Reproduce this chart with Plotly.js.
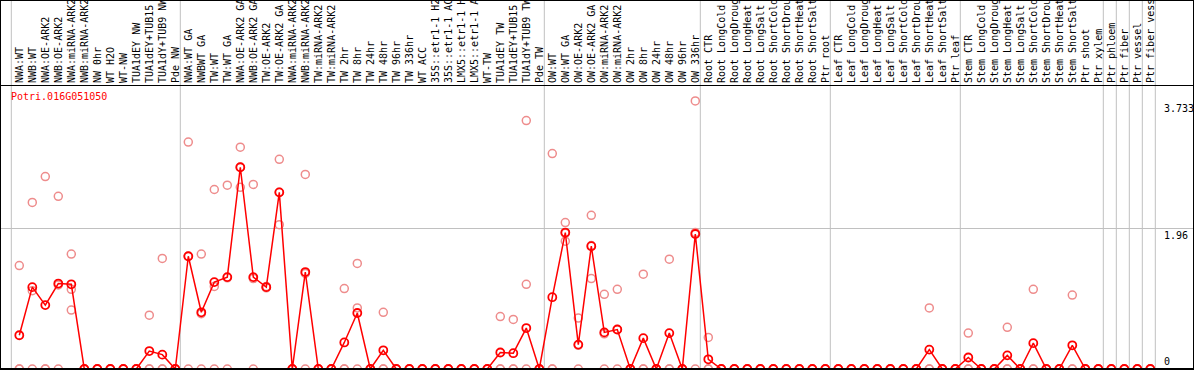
<!DOCTYPE html>
<html>
<head>
<meta charset="utf-8">
<script src="https://cdn.plot.ly/plotly-3.0.1.min.js"></script>
<style>
  html, body { margin: 0; padding: 0; background: #ffffff; }
  #chart { width: 1194px; height: 370px; }
</style>
</head>
<body>
<div id="chart"></div>
<script>
const geneId = "Potri.016G051050";

const categories = [
  "NWA:WT", "NWB:WT", "NWA:OE-ARK2", "NWB:OE-ARK2", "NWA:miRNA-ARK2", "NWB:miRNA-ARK2",
  "NW 0hr", "WT H2O", "WT-NW", "TUA1dEY NW", "TUA1dEY+TUB15 NW", "TUA1dY+TUB9 NW", "Pde NW",
  "NWA:WT GA", "NWBWT GA", "TW:WT", "TW:WT GA", "NWA:OE-ARK2 GA", "NWB:OE-ARK2 GA",
  "TW:OE-ARK2", "TW:OE-ARK2 GA", "NWA:miRNA-ARK2 GA", "NWB:miRNA-ARK2 GA", "TW:miRNA-ARK2",
  "TW:miRNA-ARK2 GA", "TW 2hr", "TW 8hr", "TW 24hr", "TW 48hr", "TW 96hr", "TW 336hr",
  "WT ACC", "35S::etr1-1 H2O", "35S::etr1-1 ACC", "LMX5::etr1-1 H2O", "LMX5::etr1-1 ACC",
  "WT-TW", "TUA1dEY TW", "TUA1dEY+TUB15 TW", "TUA1dY+TUB9 TW", "Pde TW",
  "OW:WT", "OW:WT GA", "OW:OE-ARK2", "OW:OE-ARK2 GA", "OW:miRNA-ARK2", "OW:miRNA-ARK2 GA",
  "OW 2hr", "OW 8hr", "OW 24hr", "OW 48hr", "OW 96hr", "OW 336hr",
  "Root CTR", "Root LongCold", "Root LongDrought", "Root LongHeat", "Root LongSalt",
  "Root ShortCold", "Root ShortDrought", "Root ShortHeat", "Root ShortSalt", "Ptr root",
  "Leaf CTR", "Leaf LongCold", "Leaf LongDrought", "Leaf LongHeat", "Leaf LongSalt",
  "Leaf ShortCold", "Leaf ShortDrought", "Leaf ShortHeat", "Leaf ShortSalt", "Ptr leaf",
  "Stem CTR", "Stem LongCold", "Stem LongDrought", "Stem LongHeat", "Stem LongSalt",
  "Stem ShortCold", "Stem ShortDrought", "Stem ShortHeat", "Stem ShortSalt", "Ptr shoot",
  "Ptr xylem", "Ptr phloem", "Ptr fiber", "Ptr vessel", "Ptr fiber vessel"
];

const meanValues = [
  0.47, 1.14, 0.89, 1.19, 1.18, 0, 0, 0, 0, 0, 0.25, 0.20, 0,
  1.57, 0.79, 1.21, 1.28, 2.81, 1.28, 1.14, 2.46, 0, 1.35, 0, 0,
  0.37, 0.78, 0, 0.26, 0, 0, 0, 0, 0, 0, 0, 0, 0.23, 0.22, 0.57, 0,
  1.00, 1.90, 0.34, 1.71, 0.51, 0.55, 0, 0.43, 0, 0.50, 0, 1.88,
  0.135, 0, 0, 0, 0, 0, 0, 0, 0, 0,
  0, 0, 0, 0, 0, 0, 0, 0.27, 0, 0,
  0.16, 0, 0, 0.19, 0, 0.36, 0, 0, 0.33, 0, 0,
  0, 0, 0, 0
];

const repHigh = [
  1.44, 2.32, 2.68, 2.405, 1.60, 0, 0, 0, 0, 0, 0.75, 1.54, 0,
  3.16, 1.60, 2.50, 2.56, 3.09, 2.57, 1.15, 2.92, 0, 2.71, 0, 0,
  1.12, 1.47, 0, 0.79, 0, 0, 0, 0, 0, 0, 0, 0, 0.73, 0.69, 3.46, 0,
  3.00, 2.04, 0.71, 2.14, 1.04, 1.11, 0, 1.32, 0, 1.53, 0, 3.733,
  0.44, 0, 0, 0, 0, 0, 0, 0, 0, 0,
  0, 0, 0, 0, 0, 0, 0, 0.85, 0, 0,
  0.50, 0, 0, 0.58, 0, 1.11, 0, 0, 1.03, 0, 0,
  0, 0, 0, 0
];

const repMid = [
  0, 1.09, 0, 1.17, 1.11, 0, 0, 0, 0, 0, 0, 0, 0,
  1.57, 0.77, 1.15, 1.27, 2.81, 1.26, 1.14, 2.46, 0, 1.33, 0, 0,
  0, 0.85, 0, 0, 0, 0, 0, 0, 0, 0, 0, 0, 0, 0, 1.18, 0,
  0, 1.89, 0.33, 1.72, 0.49, 0.55, 0, 0, 0, 0, 0, 1.90,
  0, 0, 0, 0, 0, 0, 0, 0, 0, 0,
  0, 0, 0, 0, 0, 0, 0, 0, 0, 0,
  0, 0, 0, 0, 0, 0, 0, 0, 0, 0, 0,
  0, 0, 0, 0
];

const repLow = [
  0, 0, 0, 0, 0.82, 0, 0, 0, 0, 0, 0, 0, 0,
  0, 0, 0, 0, 2.53, 0, 1.13, 2.01, 0, 0, 0, 0,
  0, 0, 0, 0, 0, 0, 0, 0, 0, 0, 0, 0, 0, 0, 0, 0,
  0, 1.78, 0, 1.26, 0, 0, 0, 0, 0, 0, 0, 0,
  0, 0, 0, 0, 0, 0, 0, 0, 0, 0,
  0, 0, 0, 0, 0, 0, 0, 0, 0, 0,
  0, 0, 0, 0, 0, 0, 0, 0, 0, 0, 0,
  0, 0, 0, 0
];

// number of consecutive categories in each vertical-gridline group
const groupSizes = [13, 28, 12, 10, 10, 11, 1, 1, 1, 1];

const yTickValues = [3.733, 1.96, 0];
const yTickText = ["3.733", "1.96", "0"];
const yGridValues = [1.96];

// ---------- layout geometry ----------
const W = 1194, H = 370;
const M = { l: 1, r: 1, t: 86, b: 1 };
const plotW = W - M.l - M.r, plotH = H - M.t - M.b;
const catStep = 13;          // px per category
const firstCatPx = 19.3;     // px of first category centre
const pxPerUnit = 71.8;      // px per y unit
const xIdx = categories.map((_, i) => i);
const xRange = [(M.l - firstCatPx) / catStep, (M.l + plotW - firstCatPx) / catStep];
const yRange = [0, plotH / pxPerUnit];
const topExtent = 1 + M.t / plotH;
const mono = "DejaVu Sans Mono, Liberation Mono, monospace";

// vertical group separators
const boundaries = [0];
groupSizes.forEach(s => boundaries.push(boundaries[boundaries.length - 1] + s));
const shapes = boundaries.map(b => ({
  type: "line", xref: "x", yref: "paper",
  x0: b - 0.615, x1: b - 0.615, y0: 0, y1: topExtent,
  line: { color: "#c0c0c0", width: 1 }, layer: "below"
}));
// outer frame
shapes.push({
  type: "rect", xref: "paper", yref: "paper",
  x0: -M.l / plotW, x1: 1 + M.r / plotW, y0: 0, y1: topExtent,
  line: { color: "#000", width: 2 }, fillcolor: "rgba(0,0,0,0)"
});

const annotations = [{
  text: geneId, xref: "paper", yref: "paper",
  x: (9.3 - M.l) / plotW, y: (H - M.b - 89) / plotH,
  xanchor: "left", yanchor: "top", showarrow: false,
  font: { family: mono, size: 10, color: "#ff0000" }
}];
yTickValues.forEach((v, i) => {
  annotations.push({
    text: yTickText[i], xref: "paper", yref: "y",
    x: (1162 - M.l) / plotW, y: v,
    xanchor: "left", yanchor: v === 0 ? "bottom" : "top", showarrow: false,
    font: { family: mono, size: 10, color: "#000" }
  });
});

const traces = [
  { x: xIdx, y: repHigh, mode: "markers", type: "scatter", cliponaxis: false, hoverinfo: "skip",
    marker: { symbol: "circle-open", size: 8, color: "rgb(238,140,140)", line: { width: 1.5 } } },
  { x: xIdx, y: repMid, mode: "markers", type: "scatter", cliponaxis: false, hoverinfo: "skip",
    marker: { symbol: "circle-open", size: 8, color: "rgb(238,140,140)", line: { width: 1.5 } } },
  { x: xIdx, y: repLow, mode: "markers", type: "scatter", cliponaxis: false, hoverinfo: "skip",
    marker: { symbol: "circle-open", size: 8, color: "rgb(238,140,140)", line: { width: 1.5 } } },
  { x: xIdx, y: meanValues, mode: "lines+markers", type: "scatter", cliponaxis: false,
    line: { color: "#ff0000", width: 1.5 },
    marker: { symbol: "circle-open", size: 8, color: "#ff0000", line: { width: 1.8 } } }
];

const layout = {
  width: W, height: H, margin: M,
  paper_bgcolor: "#ffffff", plot_bgcolor: "#ffffff",
  showlegend: false,
  xaxis: {
    range: xRange, side: "top", tickmode: "array", tickvals: xIdx, ticktext: categories,
    tickangle: -90, ticks: "", showgrid: false, zeroline: false,
    showline: true, mirror: true, linecolor: "#000", linewidth: 1,
    tickfont: { family: mono, size: 10, color: "#000" }, automargin: false
  },
  yaxis: {
    range: yRange, tickmode: "array", tickvals: yGridValues, showticklabels: false, ticks: "",
    showgrid: true, gridcolor: "#c0c0c0", gridwidth: 1, zeroline: false,
    showline: true, mirror: true, linecolor: "#000", linewidth: 1, automargin: false
  },
  shapes: shapes,
  annotations: annotations
};

Plotly.newPlot("chart", traces, layout, { displayModeBar: false, staticPlot: true });
</script>
</body>
</html>
